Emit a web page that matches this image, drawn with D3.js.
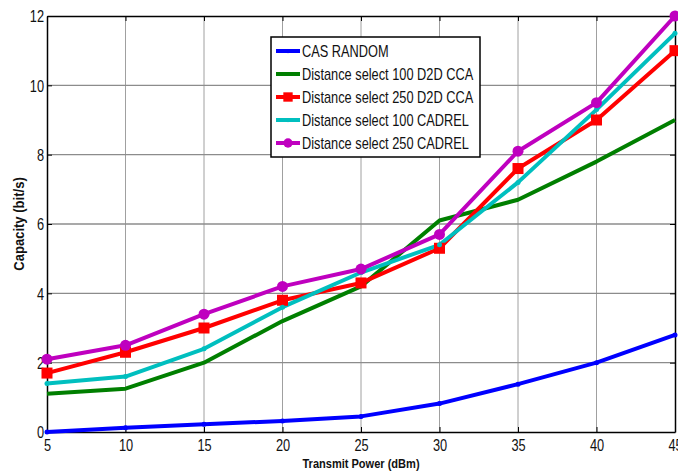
<!DOCTYPE html>
<html>
<head>
<meta charset="utf-8">
<script src="https://cdn.jsdelivr.net/npm/d3@7"></script>
<style>
  body { margin: 0; background: #fff; }
  svg { display: block; }
  text { font-family: "Liberation Sans", Arial, sans-serif; }
</style>
</head>
<body>
<svg id="chart" width="678" height="473"></svg>
<script>
// transmit power values (dBm)
const power = [5, 10, 15, 20, 25, 30, 35, 40, 45];

const casRandom   = [0, 0.12, 0.22, 0.32, 0.45, 0.82, 1.38, 2.0, 2.8];
const dist100Cca  = [1.1, 1.25, 2.0, 3.2, 4.2, 6.1, 6.7, 7.8, 9.0];
const dist250Cca  = [1.7, 2.3, 3.0, 3.8, 4.3, 5.3, 7.6, 9.0, 11.0];
const dist100Cad  = [1.4, 1.6, 2.4, 3.6, 4.6, 5.4, 7.2, 9.3, 11.5];
const dist250Cad  = [2.1, 2.5, 3.4, 4.2, 4.7, 5.7, 8.1, 9.5, 12.0];

const xTicks = [5, 10, 15, 20, 25, 30, 35, 40, 45];
const yTicks = [0, 2, 4, 6, 8, 10, 12];

const series = [
  { name: "CAS RANDOM", values: casRandom, color: "#0000ff", marker: "dot" },
  { name: "Distance select 100 D2D CCA", values: dist100Cca, color: "#007f00", marker: "none" },
  { name: "Distance select 250 D2D CCA", values: dist250Cca, color: "#ff0000", marker: "square" },
  { name: "Distance select 100 CADREL", values: dist100Cad, color: "#00bfbf", marker: "dot" },
  { name: "Distance select 250 CADREL", values: dist250Cad, color: "#bf00bf", marker: "circle" }
];

const margin = { left: 47, right: 3, top: 16, bottom: 41 };
const width = 678, height = 473;
const narrow = 0.8; // no narrow font installed, squeeze text horizontally
const svg = d3.select("#chart");

const x = d3.scaleLinear().domain([5, 45]).range([margin.left, width - margin.right]);
const y = d3.scaleLinear().domain([0, 12]).range([height - margin.bottom, margin.top]);

const x0 = x.range()[0], x1 = x.range()[1];
const y0 = y.range()[0], y1 = y.range()[1];

// grid
const grid = svg.append("g");
grid.selectAll("line.vg")
  .data(xTicks.slice(1, -1))
  .enter().append("line")
  .attr("x1", d => x(d)).attr("x2", d => x(d))
  .attr("y1", y1).attr("y2", y0)
  .attr("stroke", "#a0a0a0").attr("stroke-width", 1);
grid.selectAll("line.hg")
  .data(yTicks.slice(1, -1))
  .enter().append("line")
  .attr("x1", x0).attr("x2", x1)
  .attr("y1", d => y(d)).attr("y2", d => y(d))
  .attr("stroke", "#8c8c8c").attr("stroke-width", 1.3);

// axes (ticks inward)
const xAxis = svg.append("g")
  .attr("transform", `translate(0,${y0})`)
  .call(d3.axisBottom(x).tickValues(xTicks).tickSizeInner(-5).tickSizeOuter(0).tickPadding(11));
const xTop = svg.append("g")
  .attr("transform", `translate(0,${y1})`)
  .call(d3.axisTop(x).tickValues(xTicks).tickSizeInner(-5).tickSizeOuter(0).tickFormat(""));
const yAxis = svg.append("g")
  .attr("transform", `translate(${x0},0)`)
  .call(d3.axisLeft(y).tickValues(yTicks).tickSizeInner(-5).tickSizeOuter(0).tickPadding(3));
const yRight = svg.append("g")
  .attr("transform", `translate(${x1},0)`)
  .call(d3.axisRight(y).tickValues(yTicks).tickSizeInner(-5).tickSizeOuter(0).tickFormat(""));

[xAxis, xTop, yAxis, yRight].forEach(g => {
  g.select(".domain").attr("stroke", "#000").attr("stroke-width", 1.5);
  g.selectAll(".tick line").attr("stroke", "#000");
  g.selectAll(".tick text")
    .attr("fill", "#111")
    .style("font-size", "16px");
});
yAxis.selectAll(".tick text")
  .attr("x", -3 / narrow)
  .attr("dy", "0.36em")
  .attr("transform", `scale(${narrow},1)`);
xAxis.selectAll(".tick text")
  .attr("dy", "0.5em")
  .attr("transform", `scale(${narrow},1)`);

// lines
const line = d3.line().x((d, i) => x(power[i])).y(d => y(d));
const plot = svg.append("g");
series.forEach(s => {
  plot.append("path")
    .attr("d", line(s.values))
    .attr("fill", "none")
    .attr("stroke", s.color)
    .attr("stroke-width", 4)
    .attr("stroke-linejoin", "round");
});
function drawMarker(g, s, cx, cy, scale) {
  if (s.marker === "square") {
    g.append("rect").attr("x", cx - 5.5 * scale).attr("y", cy - 5.5 * scale)
      .attr("width", 11 * scale).attr("height", 11 * scale).attr("fill", s.color);
  } else if (s.marker === "circle") {
    g.append("circle").attr("cx", cx).attr("cy", cy).attr("r", 5.5 * scale).attr("fill", s.color);
  } else if (s.marker === "dot") {
    g.append("circle").attr("cx", cx).attr("cy", cy).attr("r", 2.5 * scale).attr("fill", s.color);
  }
}
series.forEach(s => {
  s.values.forEach((v, i) => drawMarker(plot, s, x(power[i]), y(v), 1));
});

// legend
const lg = svg.append("g");
const lx = 271, ly = 37, lw = 209, lh = 120;
lg.append("rect").attr("x", lx).attr("y", ly).attr("width", lw).attr("height", lh)
  .attr("fill", "#fff").attr("stroke", "#000").attr("stroke-width", 1.5);
series.forEach((s, i) => {
  const ry = ly + 14 + i * 23;
  lg.append("line").attr("x1", lx + 5).attr("x2", lx + 29).attr("y1", ry).attr("y2", ry)
    .attr("stroke", s.color).attr("stroke-width", 4);
  drawMarker(lg, s, lx + 17, ry, 0.85);
  lg.append("text")
    .attr("transform", `translate(${lx + 31},${ry}) scale(${narrow},1)`)
    .attr("dy", "0.36em")
    .style("font-size", "16px").attr("fill", "#111").text(s.name);
});

// axis titles
svg.append("text")
  .attr("transform", `translate(${(x0 + x1) / 2},468) scale(0.85,1)`)
  .attr("text-anchor", "middle")
  .style("font-size", "13px").style("font-weight", "bold").attr("fill", "#111")
  .text("Transmit Power (dBm)");
svg.append("text")
  .attr("transform", `translate(24,${(y0 + y1) / 2}) rotate(-90) scale(0.9,1)`)
  .attr("text-anchor", "middle")
  .style("font-size", "14.5px").style("font-weight", "bold").attr("fill", "#111")
  .text("Capacity (bit/s)");
</script>
</body>
</html>
